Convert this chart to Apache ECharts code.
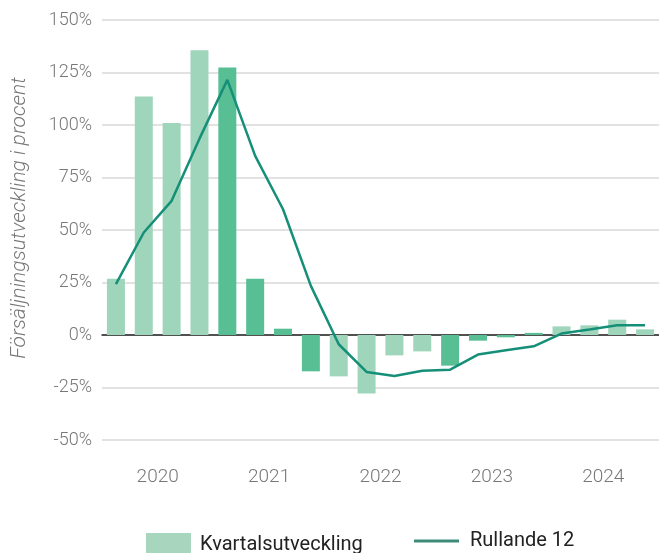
<!DOCTYPE html>
<html lang="sv">
<head>
<meta charset="UTF-8">
<title>Försäljningsutveckling</title>
<script src="https://cdn.jsdelivr.net/npm/echarts@6/dist/echarts.min.js"></script>
<style>
  html, body { margin: 0; padding: 0; background: #fff; }
  #main { width: 659px; height: 553px; }
</style>
</head>
<body>
<div id="main"></div>
<script>
// kvartal 2020 Q1 .. 2024 Q4
var quarters = ['2020 K1','2020 K2','2020 K3','2020 K4',
                '2021 K1','2021 K2','2021 K3','2021 K4',
                '2022 K1','2022 K2','2022 K3','2022 K4',
                '2023 K1','2023 K2','2023 K3','2023 K4',
                '2024 K1','2024 K2','2024 K3','2024 K4'];
var years = ['2020', '2021', '2022', '2023', '2024'];
var kvartal = [26.8, 113.6, 101, 135.6, 127.4, 26.8, 3, -17.3,
               -19.7, -27.9, -9.7, -7.8, -14.6, -2.7, -1.1, 1,
               4.1, 4.6, 7.3, 2.7];
var rullande = [24.2, 48.8, 63.9, 93.5, 121.5, 85.3, 59.9, 23.4,
                -4.4, -17.6, -19.5, -17, -16.5, -9.3, -7.3, -5.4,
                0.7, 2.6, 4.6, 4.6];
var yTicks = [-50, -25, 0, 25, 50, 75, 100, 125, 150];

var lightGreen = '#9fd5bb';
var darkGreen = '#58bf95';

var chart = echarts.init(document.getElementById('main'));

// varannat år mörkare staplar
var barData = kvartal.map(function (v, i) {
    var yr = Math.floor(i / 4);
    return { value: v, itemStyle: { color: yr % 2 == 1 ? darkGreen : lightGreen } };
});

var option = {
    animation: false,
    grid: { left: 102, right: 0, top: 20, bottom: 113 },
    legend: [{
        left: 146, top: 533, padding: 0,
        itemWidth: 45, itemHeight: 24, itemGap: 0,
        textStyle: { fontFamily: 'Roboto', fontSize: 20, color: '#222', padding: [0, 0, 0, 4] },
        data: [{ name: 'Kvartalsutveckling', icon: 'rect', itemStyle: { color: '#a8d5bd' } }]
    }, {
        left: 414, top: 531, padding: 0,
        itemWidth: 45, itemHeight: 3, itemGap: 0,
        textStyle: { fontFamily: 'Roboto', fontSize: 20, color: '#222', padding: [0, 0, 0, 6] },
        data: [{ name: 'Rullande 12', icon: 'rect', itemStyle: { color: '#3d8b78' } }]
    }],
    xAxis: [{
        type: 'category',
        data: quarters,
        axisLine: { onZero: true, lineStyle: { color: '#222', width: 1.5 } },
        axisTick: { show: false },
        axisLabel: { show: false }
    }, {
        type: 'category',
        data: years,
        position: 'bottom',
        axisLine: { show: false, onZero: false },
        axisTick: { show: false },
        axisLabel: { fontFamily: 'Roboto', fontWeight: 300, fontSize: 19, color: '#777', margin: 28 }
    }],
    yAxis: {
        type: 'value',
        min: yTicks[0], max: yTicks[yTicks.length - 1], interval: 25,
        name: 'Försäljningsutveckling i procent',
        nameLocation: 'middle',
        nameRotate: 90,
        nameGap: 72,
        nameTextStyle: {
            fontFamily: 'Roboto', fontStyle: 'italic', fontWeight: 300,
            fontSize: 21, color: '#777', padding: [0, 0, 0, 24]
        },
        axisLine: { show: false },
        axisTick: { show: false },
        axisLabel: {
            fontFamily: 'Roboto', fontWeight: 300, fontSize: 18, color: '#777', margin: 10,
            formatter: function (v) { return v + '%'; }
        },
        splitLine: { lineStyle: { color: '#d8d8d8', width: 1.5 } }
    },
    series: [{
        name: 'Kvartalsutveckling',
        type: 'bar',
        xAxisIndex: 0,
        barWidth: 18,
        data: barData
    }, {
        name: 'Rullande 12',
        type: 'line',
        xAxisIndex: 0,
        showSymbol: false,
        symbol: 'none',
        lineStyle: { color: '#168f78', width: 2.5 },
        itemStyle: { color: '#168f78' },
        data: rullande
    }]
};
chart.setOption(option);
</script>
</body>
</html>
